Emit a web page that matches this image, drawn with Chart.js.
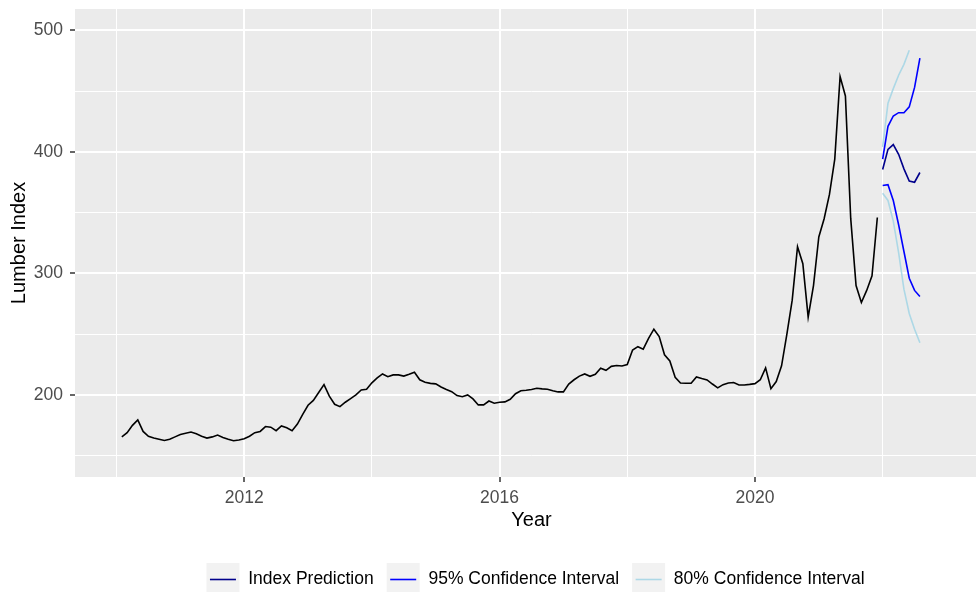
<!DOCTYPE html>
<html>
<head>
<meta charset="utf-8">
<title>Lumber Index</title>
<script src="https://cdn.jsdelivr.net/npm/chart.js@4.4.1/dist/chart.umd.min.js"></script>
<style>
  html, body { margin: 0; padding: 0; background: #fff; overflow: hidden; }
  canvas { display: block; }
</style>
</head>
<body>
<canvas id="grafico" width="988" height="606"></canvas>
<script>
// monthly index, Feb 2010 - Dec 2021
const lumber = [
  165.6, 168.9, 175, 179.5, 170, 166, 164.5, 163.5, 162.5, 163.5, 165.5,
  167.5, 168.5, 169.5, 168, 166, 164.5, 165.5, 167, 165, 163.5, 162.3, 163,
  164, 166, 169, 170, 174, 173.5, 170.6, 174.5, 173, 170.6, 176, 184, 191.5,
  195.5, 202, 208.5, 199, 192.3, 190.4, 194, 197, 200, 204.1, 204.7, 210,
  214, 217.3, 215, 216.5, 216.5, 215.5, 217, 218.7, 212.5, 210.5, 209.5, 209.1,
  206.5, 204.5, 202.7, 199.5, 198.5, 200, 196.7, 191.8, 191.8, 195, 193.2, 194,
  194.3, 196.4, 201, 203.5, 203.8, 204.5, 205.5, 205, 204.7, 203.5, 202.5, 202.5,
  209, 212.5, 215.5, 217.3, 215.3, 217, 222, 220.3, 223.5, 224.2, 223.8, 225,
  237, 239.7, 237.7, 246.5, 254.1, 248, 233, 228, 214.5, 209.8, 209.6, 209.6,
  214.8, 213.5, 212.4, 209, 205.8, 208.5, 209.8, 210.2, 208.2, 208.2, 208.7, 209.3,
  212.5, 222.3, 205.2, 211, 224, 250, 278, 322, 308, 264, 290, 330,
  345, 365, 394, 462, 446, 345, 290, 276, 286, 298, 346
];

// forecast, Jan - Aug 2022
const prediction = [385.4, 402, 406, 398, 386, 376, 375, 383];
const upper95 = [394, 421, 429.5, 432.2, 432.2, 437, 453, 477];
const lower95 = [372.3, 373, 360, 340, 318, 296, 286, 281];
const upper80 = [404, 440, 452, 463, 472, 483.5, null, null];
const lower80 = [366, 360, 343, 317, 287, 267, 254, 243];

const xTicks = [2010, 2012, 2014, 2016, 2018, 2020, 2022];
const xLabels = [2012, 2016, 2020];
const yTicks = [150, 200, 250, 300, 350, 400, 450, 500];
const yLabels = [200, 300, 400, 500];

const legendNames = ['Index Prediction', '95% Confidence Interval', '80% Confidence Interval'];
const legendColors = ['#00008B', '#0000FF', '#ADD8E6'];

const fonte = 'Liberation Sans, Arial, sans-serif';

function serie(valores, inicio) {
  return valores.map((v, k) => ({ x: inicio + k / 12, y: v }));
}

// grey panel behind the grid
const fundoPainel = {
  id: 'fundoPainel',
  beforeDraw(chart) {
    const { ctx, chartArea: a } = chart;
    ctx.save();
    ctx.fillStyle = '#ffffff';
    ctx.fillRect(0, 0, chart.width, chart.height);
    ctx.fillStyle = '#EBEBEB';
    ctx.fillRect(a.left, a.top, a.right - a.left, a.bottom - a.top);
    ctx.restore();
  }
};

// nudge the legend row a little to the right, then draw the line symbols
// on top of the grey keys
const chavesLegenda = {
  id: 'chavesLegenda',
  afterLayout(chart) {
    chart.legend.left += 4;
    chart.legend.right += 4;
  },
  afterDraw(chart) {
    const ctx = chart.ctx;
    chart.legend.legendHitBoxes.forEach((box, i) => {
      const y = box.top + 16.5;
      ctx.save();
      ctx.strokeStyle = legendColors[i];
      ctx.lineWidth = 1.6;
      ctx.beginPath();
      ctx.moveTo(box.left + 3.5, y);
      ctx.lineTo(box.left + 29.5, y);
      ctx.stroke();
      ctx.restore();
    });
  }
};

function gridWidth(labels) {
  return c => (c.tick && labels.includes(c.tick.value)) ? 2 : 1;
}
function tickColor(labels) {
  return c => (c.tick && labels.includes(c.tick.value)) ? '#333333' : 'rgba(0,0,0,0)';
}

const ctx = document.getElementById('grafico');
new Chart(ctx, {
  type: 'line',
  data: {
    datasets: [
      { label: 'Lumber Index', data: serie(lumber, 2010 + 1 / 12), borderColor: '#000000' },
      { label: 'Index Prediction', data: serie(prediction, 2022), borderColor: legendColors[0] },
      { label: '95% upper', data: serie(upper95, 2022), borderColor: legendColors[1] },
      { label: '95% lower', data: serie(lower95, 2022), borderColor: legendColors[1] },
      { label: '80% upper', data: serie(upper80, 2022), borderColor: legendColors[2] },
      { label: '80% lower', data: serie(lower80, 2022), borderColor: legendColors[2] }
    ]
  },
  options: {
    responsive: false,
    animation: false,
    events: [],
    elements: {
      point: { radius: 0 },
      line: { tension: 0, borderWidth: 1.6, fill: false }
    },
    layout: { padding: { top: 9, left: 0, right: 0, bottom: 0 } },
    scales: {
      x: {
        type: 'linear',
        min: 2009.35,
        max: 2023.65,
        afterBuildTicks: s => { s.ticks = xTicks.map(v => ({ value: v })); },
        afterFit: s => { s.height = 73; s.paddingLeft = 0; s.paddingRight = 0; },
        border: { display: false },
        grid: {
          color: '#ffffff',
          lineWidth: gridWidth(xLabels),
          tickColor: tickColor(xLabels),
          tickWidth: 1.5,
          tickLength: 5
        },
        ticks: {
          autoSkip: false,
          maxRotation: 0,
          padding: 6,
          color: '#4D4D4D',
          font: { family: fonte, size: 17.5 },
          callback: v => xLabels.includes(v) ? String(v) : ''
        },
        title: {
          display: true,
          text: 'Year',
          color: '#000000',
          font: { family: fonte, size: 20 },
          padding: { top: 0, bottom: 18 }
        }
      },
      y: {
        min: 132.5,
        max: 517.5,
        afterBuildTicks: s => { s.ticks = yTicks.map(v => ({ value: v })); },
        afterFit: s => { s.width = 75; s.paddingTop = 0; s.paddingBottom = 0; },
        border: { display: false },
        grid: {
          color: '#ffffff',
          lineWidth: gridWidth(yLabels),
          tickColor: tickColor(yLabels),
          tickWidth: 1.5,
          tickLength: 5
        },
        ticks: {
          padding: 7,
          color: '#4D4D4D',
          font: { family: fonte, size: 17.5 },
          callback: v => yLabels.includes(v) ? String(v) : ''
        },
        title: {
          display: true,
          text: 'Lumber Index',
          color: '#000000',
          font: { family: fonte, size: 20 },
          padding: { top: 7, bottom: 0 }
        }
      }
    },
    plugins: {
      tooltip: { enabled: false },
      legend: {
        position: 'bottom',
        fullSize: false,
        labels: {
          boxWidth: 33,
          boxHeight: 33,
          padding: 13,
          color: '#000000',
          font: { family: fonte, size: 17.5 },
          generateLabels: () => legendNames.map((nome, i) => ({
            text: nome,
            fillStyle: '#F2F2F2',
            strokeStyle: '#F2F2F2',
            lineWidth: 0,
            hidden: false,
            datasetIndex: i
          }))
        }
      }
    }
  },
  plugins: [fundoPainel, chavesLegenda]
});
</script>
</body>
</html>
